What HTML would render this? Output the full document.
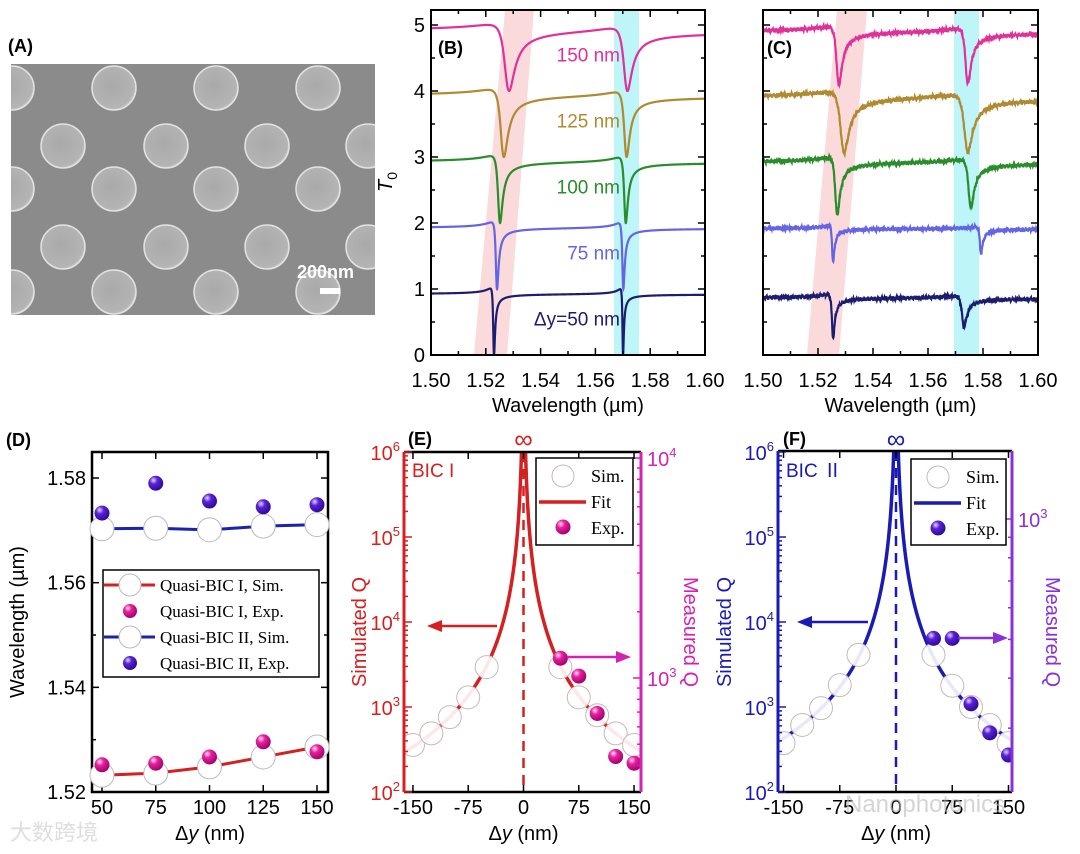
<!DOCTYPE html>
<html><head><meta charset="utf-8">
<style>
html,body{margin:0;padding:0;background:#fff;}
svg{display:block;font-family:"Liberation Sans","Noto Sans CJK SC",sans-serif;}
.serif{font-family:"Liberation Serif",serif;}
</style></head>
<body>
<svg id="fig" xmlns="http://www.w3.org/2000/svg" width="1080" height="854" viewBox="0 0 1080 854">
<defs>
<radialGradient id="gPink" cx="0.35" cy="0.3" r="0.75"><stop offset="0" stop-color="#ffe0f4"/><stop offset="0.35" stop-color="#e8209e"/><stop offset="1" stop-color="#9a006a"/></radialGradient>
<radialGradient id="gPurp" cx="0.35" cy="0.3" r="0.75"><stop offset="0" stop-color="#e4d8ff"/><stop offset="0.35" stop-color="#5a22d8"/><stop offset="1" stop-color="#2a0890"/></radialGradient>
<radialGradient id="gDisk" cx="0.45" cy="0.45" r="0.6"><stop offset="0" stop-color="#a9a9a9"/><stop offset="0.85" stop-color="#b4b4b4"/><stop offset="1" stop-color="#dcdcdc"/></radialGradient>
<clipPath id="clipA"><rect x="11" y="64" width="364" height="251"/></clipPath>
<clipPath id="clipB"><rect x="431" y="10" width="274" height="345"/></clipPath>
<clipPath id="clipC"><rect x="763" y="10" width="275" height="345"/></clipPath>
<clipPath id="clipE"><rect x="404" y="452" width="237" height="340"/></clipPath>
<clipPath id="clipF"><rect x="778" y="451" width="234" height="341"/></clipPath>
</defs>
<g id="root"></g>
</svg>
<script>
// ---------- DATA ----------
const semRowsY = [88, 146, 189, 247, 292];
const semRowA = [12, 114, 216, 318];
const semRowB = [63, 166, 267, 368];
const bOffsets = [0, 1, 2, 3, 4];
const bLabels = ['\u0394y=50 nm', '75 nm', '100 nm', '125 nm', '150 nm'];
const bDip1 = [1.5230, 1.5241, 1.5252, 1.5266, 1.5285];
const bDip2 = [1.5701, 1.5702, 1.5711, 1.5714, 1.5717];
const bWidth1 = [0.0004, 0.0006, 0.0010, 0.0016, 0.0022];
const bWidth2 = [0.0003, 0.0005, 0.0008, 0.0012, 0.0018];
const bBase = [0.92, 0.92, 0.92, 0.92, 0.90];
const cOffsets = [0, 1, 2, 3, 4];
const cBase = [0.86, 0.91, 0.91, 0.89, 0.89];
const cDip1 = [1.5255, 1.5255, 1.5270, 1.5295, 1.5276];
const cDip2 = [1.5731, 1.5793, 1.5756, 1.5745, 1.5745];
const cDepth1 = [0.70, 0.55, 0.87, 0.93, 0.90];
const cDepth2 = [0.51, 0.41, 0.74, 0.91, 0.87];
const cWidth1 = [0.0006, 0.0005, 0.0010, 0.0018, 0.0012];
const cWidth2 = [0.0010, 0.0006, 0.0012, 0.0018, 0.0012];
const specTicks = ['1.50', '1.52', '1.54', '1.56', '1.58', '1.60'];
const tTicks = ['0', '1', '2', '3', '4', '5'];
const dDy = [50, 75, 100, 125, 150];
const dSim1 = [1.5232, 1.5236, 1.5248, 1.5267, 1.5286];
const dExp1 = [1.5252, 1.5255, 1.5267, 1.5296, 1.5277];
const dSim2 = [1.5703, 1.5704, 1.5701, 1.5708, 1.5711];
const dExp2 = [1.5733, 1.5790, 1.5756, 1.5745, 1.5749];
const dYTicks = ['1.52', '1.54', '1.56', '1.58'];
const dXTicks = ['50', '75', '100', '125', '150'];
const eSimDy = [-150, -125, -100, -75, -50, 50, 75, 100, 125, 150];
const eSimQ = [357, 490, 760, 1300, 2950, 2950, 1300, 800, 490, 357];
const eExpDy = [50, 75, 100, 125, 150];
const eExpQ = [1230, 1020, 690, 440, 410];
const fSimDy = [-150, -125, -100, -75, -50, 50, 75, 100, 125, 150];
const fSimQ = [376, 615, 970, 1810, 4100, 4100, 1780, 1000, 615, 376];
const fExpDy = [50, 75, 100, 125, 150];
const fExpQ = [503, 503, 345, 292, 257];
const qXTicks = ['-150', '-75', '0', '75', '150'];

// ---------- HELPERS ----------
const NS = 'http://www.w3.org/2000/svg';
const root = document.getElementById('root');
function mk(parent, tag, attrs, name) {
  const el = document.createElementNS(NS, tag);
  for (const k in attrs) el.setAttribute(k, attrs[k]);
  
  
  parent.appendChild(el);
  return el;
}
function txt(parent, x, y, s, attrs, name) {
  const a = Object.assign({x: x, y: y}, attrs || {});
  const el = mk(parent, 'text', a, name);
  el.textContent = s;
  return el;
}
function powLabel(parent, x, y, exp, color, anchor, name) {
  const el = mk(parent, 'text', {x: x, y: y, fill: color, 'font-size': 20, 'text-anchor': anchor}, name);
  el.appendChild(document.createTextNode('10'));
  const t = document.createElementNS(NS, 'tspan');
  t.setAttribute('dy', -9); t.setAttribute('font-size', 13);
  t.textContent = exp;
  el.appendChild(t);
  return el;
}
function g(name, extra) { return mk(root, 'g', extra || {}, name); }
function fano(l, l0, gam, q) { const e = (l - l0) / gam; return ((e + q) * (e + q)) / (1 + e * e); }
function jitter(i, k) { return 0.016 * Math.sin(i * 1.7 + k) + 0.012 * Math.sin(i * 0.53 + 2 * k) + 0.009 * Math.sin(i * 3.1 + 3 * k); }

// ---------- PANEL A ----------
(function () {
  const pa = g('panel-a-sem-image');
  txt(pa, 8, 52, '(A)', {'font-size': 18, 'font-weight': 'bold'}, 'panel-a-label');
  const cg = mk(pa, 'g', {'clip-path': 'url(#clipA)'}, 'sem-field');
  mk(cg, 'rect', {x: 11, y: 64, width: 364, height: 251, fill: '#8b8b8b'}, 'sem-background');
  semRowsY.forEach((y, r) => {
    const xs = (r % 2 === 0) ? semRowA : semRowB;
    xs.forEach(x => mk(cg, 'circle', {cx: x, cy: y, r: 22, fill: 'url(#gDisk)', stroke: '#e2e2e2', 'stroke-width': 1.5}, 'nanodisk'));
  });
  [114, 216].forEach(x => mk(cg, 'circle', {cx: x + 51, cy: 37, r: 22, fill: 'url(#gDisk)', stroke: '#e2e2e2', 'stroke-width': 1.5}, 'nanodisk'));
  txt(pa, 297, 278, '200nm', {'font-size': 18, 'font-weight': 'bold', fill: '#fff'}, 'scale-bar-label');
  mk(pa, 'rect', {x: 320, y: 288, width: 20, height: 6, fill: '#fff'}, 'scale-bar');
})();

// ---------- SPECTRA PANELS ----------
const specColors = ['#1c1c70', '#6464e4', '#2a8c2a', '#b08a30', '#e0309a'];
function specFrame(p, x0, x1, y0, y1, labels) {
  mk(p, 'rect', {x: x0, y: y0, width: x1 - x0, height: y1 - y0, fill: 'none', stroke: '#000', 'stroke-width': 2}, 'plot-frame');
  const xs = v => x0 + (v - 1.5) * (x1 - x0) / 0.1;
  for (let i = 0; i <= 10; i++) {
    const v = 1.5 + i * 0.01, X = xs(v), L = i % 2 === 0 ? 7 : 4;
    mk(p, 'line', {x1: X, y1: y1, x2: X, y2: y1 - L, stroke: '#000', 'stroke-width': 1.5}, 'x-tick');
    mk(p, 'line', {x1: X, y1: y0, x2: X, y2: y0 + L, stroke: '#000', 'stroke-width': 1.5}, 'x-tick');
  }
  specTicks.forEach(s => txt(p, xs(parseFloat(s)), 387, s, {'font-size': 20, 'text-anchor': 'middle'}, 'x-tick-label'));
  for (let i = 0; i <= 10; i++) {
    const Y = y1 - i * 0.5 * 66, L = i % 2 === 0 ? 7 : 4;
    if (Y < y0) continue;
    mk(p, 'line', {x1: x0, y1: Y, x2: x0 + L, y2: Y, stroke: '#000', 'stroke-width': 1.5}, 'y-tick');
    mk(p, 'line', {x1: x1, y1: Y, x2: x1 - L, y2: Y, stroke: '#000', 'stroke-width': 1.5}, 'y-tick');
  }
  if (labels) tTicks.forEach(s => txt(p, x0 - 6, y1 - parseFloat(s) * 66 + 7, s, {'font-size': 20, 'text-anchor': 'end'}, 'y-tick-label'));
  txt(p, (x0 + x1) / 2, 412, 'Wavelength (\u00b5m)', {'font-size': 20, 'text-anchor': 'middle'}, 'x-axis-title');
}
(function () {
  const p = g('panel-b-simulated-spectra');
  const x0 = 431, x1 = 705, y1 = 355;
  const xB = l => x0 + (l - 1.5) * 2740, yB = v => y1 - v * 66;
  mk(p, 'polygon', {points: '474,355 507,355 534,10 505,10', fill: 'rgba(240,150,150,0.35)'}, 'bic1-band');
  mk(p, 'rect', {x: 614, y: 10, width: 25, height: 345, fill: 'rgba(90,230,240,0.4)'}, 'bic2-band');
  const cg = mk(p, 'g', {'clip-path': 'url(#clipB)'}, 'curves');
  bOffsets.forEach((off, k) => {
    let d = '';
    for (let i = 0; i <= 3000; i++) {
      const l = 1.5 + i * 0.1 / 3000;
      const l1 = bDip1[k] - 0.3 * bWidth1[k], l2 = bDip2[k] - 0.3 * bWidth2[k];
      const T = off + bBase[k] * fano(l, l1, bWidth1[k], -0.3) * fano(l, l2, bWidth2[k], -0.3);
      d += (i ? 'L' : 'M') + xB(l).toFixed(2) + ',' + yB(Math.min(T, off + 1.02)).toFixed(2);
    }
    mk(cg, 'path', {d: d, fill: 'none', stroke: specColors[k], 'stroke-width': 2.2}, 'spectrum-' + bLabels[k].replace(/[^0-9]/g, '') + 'nm');
    txt(p, 620, yB(off + 0.45), bLabels[k], {'font-size': 19, 'text-anchor': 'end', fill: specColors[k]}, 'curve-label');
  });
  specFrame(p, x0, x1, 10, y1, true);
  txt(p, 438, 54, '(B)', {'font-size': 18, 'font-weight': 'bold'}, 'panel-b-label');
  const yl = txt(p, 0, 0, 'T', {'font-size': 20, 'font-style': 'italic', transform: 'translate(392,192) rotate(-90)'}, 'y-axis-title');
  const sub = document.createElementNS(NS, 'tspan'); sub.setAttribute('dy', 5); sub.setAttribute('font-size', 14); sub.setAttribute('font-style', 'normal'); sub.textContent = '0'; yl.appendChild(sub);
})();
(function () {
  const p = g('panel-c-measured-spectra');
  const x0 = 763, x1 = 1038, y1 = 355;
  const xC = l => x0 + (l - 1.5) * 2750, yC = v => y1 - v * 66;
  mk(p, 'polygon', {points: '807,355 839,355 867,10 837,10', fill: 'rgba(240,150,150,0.35)'}, 'bic1-band');
  mk(p, 'rect', {x: 954, y: 10, width: 25, height: 345, fill: 'rgba(90,230,240,0.4)'}, 'bic2-band');
  const cg = mk(p, 'g', {'clip-path': 'url(#clipC)'}, 'curves');
  cOffsets.forEach((off, k) => {
    let d = '';
    for (let i = 0; i <= 900; i++) {
      const l = 1.5 + i * 0.1 / 900;
      const l1 = cDip1[k] - 0.3 * cWidth1[k], l2 = cDip2[k] - 0.3 * cWidth2[k];
      const f1 = 1 - cDepth1[k] * (1 - Math.min(fano(l, l1, cWidth1[k], -0.3), 1.08));
      const f2 = 1 - cDepth2[k] * (1 - Math.min(fano(l, l2, cWidth2[k], -0.3), 1.08));
      const T = off + cBase[k] * f1 * f2 + jitter(i, k + 1);
      d += (i ? 'L' : 'M') + xC(l).toFixed(2) + ',' + yC(T).toFixed(2);
    }
    mk(cg, 'path', {d: d, fill: 'none', stroke: specColors[k], 'stroke-width': 2.2}, 'measured-spectrum');
  });
  specFrame(p, x0, x1, 10, y1, false);
  txt(p, 767, 54, '(C)', {'font-size': 18, 'font-weight': 'bold'}, 'panel-c-label');
})();

// ---------- PANEL D ----------
(function () {
  const p = g('panel-d-wavelength-vs-dy');
  const x0 = 92, x1 = 328, y0 = 452, y1 = 792;
  const xD = v => 102 + (v - 50) * 2.15, yD = w => y1 - (w - 1.52) * 5233;
  mk(p, 'rect', {x: x0, y: y0, width: x1 - x0, height: y1 - y0, fill: '#fff', stroke: '#000', 'stroke-width': 2.5}, 'plot-frame');
  for (let i = 0; i <= 13; i++) {
    const w = 1.52 + i * 0.005, Y = yD(w); if (Y < y0) continue;
    const L = i % 4 === 0 ? 7 : (i % 2 === 0 ? 4 : 0); if (!L) continue;
    mk(p, 'line', {x1: x0, y1: Y, x2: x0 + L, y2: Y, stroke: '#000', 'stroke-width': 1.5}, 'y-tick');
    mk(p, 'line', {x1: x1, y1: Y, x2: x1 - L, y2: Y, stroke: '#000', 'stroke-width': 1.5}, 'y-tick');
  }
  dYTicks.forEach(s => txt(p, x0 - 6, yD(parseFloat(s)) + 7, s, {'font-size': 20, 'text-anchor': 'end'}, 'y-tick-label'));
  dXTicks.forEach(s => {
    const X = xD(parseFloat(s));
    mk(p, 'line', {x1: X, y1: y1, x2: X, y2: y1 - 7, stroke: '#000', 'stroke-width': 1.5}, 'x-tick');
    mk(p, 'line', {x1: X, y1: y0, x2: X, y2: y0 + 7, stroke: '#000', 'stroke-width': 1.5}, 'x-tick');
    txt(p, X, 814, s, {'font-size': 20, 'text-anchor': 'middle'}, 'x-tick-label');
  });
  const series = [[dSim1, '#d42020'], [dSim2, '#1a22b0']];
  series.forEach(([arr, col]) => {
    mk(p, 'polyline', {points: dDy.map((v, i) => xD(v) + ',' + yD(arr[i])).join(' '), fill: 'none', stroke: col, 'stroke-width': 3}, 'sim-line');
    dDy.forEach((v, i) => mk(p, 'circle', {cx: xD(v), cy: yD(arr[i]), r: 12, fill: '#fff', stroke: '#bbb', 'stroke-width': 1}, 'sim-point'));
  });
  dDy.forEach((v, i) => mk(p, 'circle', {cx: xD(v), cy: yD(dExp1[i]), r: 7.5, fill: 'url(#gPink)'}, 'exp-point-bic1'));
  dDy.forEach((v, i) => mk(p, 'circle', {cx: xD(v), cy: yD(dExp2[i]), r: 7.5, fill: 'url(#gPurp)'}, 'exp-point-bic2'));
  const lg = mk(p, 'g', {}, 'legend');
  mk(lg, 'rect', {x: 103, y: 570, width: 216, height: 107, fill: '#fff', stroke: '#000', 'stroke-width': 1.5}, 'legend-box');
  const rows = [['Quasi-BIC I, Sim.', 'line', '#d42020'], ['Quasi-BIC I, Exp.', 'ball', 'url(#gPink)'], ['Quasi-BIC II, Sim.', 'line', '#1a22b0'], ['Quasi-BIC II, Exp.', 'ball', 'url(#gPurp)']];
  rows.forEach((r, i) => {
    const y = 585 + i * 26;
    if (r[1] === 'line') {
      mk(lg, 'line', {x1: 104, y1: y, x2: 155, y2: y, stroke: r[2], 'stroke-width': 3}, 'legend-line');
      mk(lg, 'circle', {cx: 130, cy: y, r: 11, fill: '#fff', stroke: '#bbb'}, 'legend-marker');
    } else mk(lg, 'circle', {cx: 130, cy: y, r: 7, fill: r[2]}, 'legend-marker');
    txt(lg, 160, y + 6, r[0], {'font-size': 17, class: 'serif'}, 'legend-entry');
  });
  txt(p, 6, 446, '(D)', {'font-size': 18, 'font-weight': 'bold'}, 'panel-d-label');
  txt(p, 0, 0, 'Wavelength (\u00b5m)', {'font-size': 20, 'text-anchor': 'middle', transform: 'translate(24,622) rotate(-90)'}, 'y-axis-title');
  const xt = txt(p, 210, 840, '\u0394', {'font-size': 20, 'text-anchor': 'middle'}, 'x-axis-title');
  const it = document.createElementNS(NS, 'tspan'); it.setAttribute('font-style', 'italic'); it.textContent = 'y'; xt.appendChild(it);
  xt.appendChild(document.createTextNode(' (nm)'));
})();

// ---------- Q PANELS ----------
function qPanel(cfg) {
  const p = g(cfg.name);
  const {x0, x1, y0, y1, xZero, kx, lc, rc} = cfg;
  const xs = v => xZero + v * kx;
  const yL = q => y1 - (Math.log10(q) - 2) * 85;
  const yR = q => cfg.rRef - (Math.log10(q) - 3) * cfg.rDec;
  mk(p, 'rect', {x: x0, y: y0, width: x1 - x0, height: y1 - y0, fill: '#fff'}, 'plot-bg');
  let s = 0; cfg.simDy.forEach((v, i) => { s += Math.log(cfg.simQ[i] * v * v); });
  const a = Math.exp(s / cfg.simDy.length);
  const cg = mk(p, 'g', {'clip-path': 'url(#' + cfg.clip + ')'}, 'plot-area');
  [-1, 1].forEach(sg => {
    let d = '';
    for (let i = 0; i <= 400; i++) {
      const v = Math.exp(Math.log(1.5) + i * (Math.log(165) - Math.log(1.5)) / 400);
      const q = Math.min(a / (v * v), 2e6);
      d += (i ? 'L' : 'M') + xs(sg * v).toFixed(2) + ',' + yL(q).toFixed(2);
    }
    mk(cg, 'path', {d: d, fill: 'none', stroke: lc, 'stroke-width': 3.5}, 'fit-curve');
  });
  mk(cg, 'line', {x1: xs(0), y1: y0, x2: xs(0), y2: y1, stroke: lc, 'stroke-width': 2.5, 'stroke-dasharray': '10,7'}, 'bic-dashed-line');
  cfg.simDy.forEach((v, i) => mk(cg, 'circle', {cx: xs(v), cy: yL(cfg.simQ[i]), r: 11.5, fill: '#fff', 'fill-opacity': 0.9, stroke: '#c8b8b8', 'stroke-width': 1}, 'sim-point'));
  cfg.expDy.forEach((v, i) => mk(cg, 'circle', {cx: xs(v), cy: yR(cfg.expQ[i]), r: 7.5, fill: cfg.ball}, 'exp-point'));
  mk(p, 'line', {x1: x0, y1: y0, x2: x1, y2: y0, stroke: '#000', 'stroke-width': 2.5}, 'top-axis');
  mk(p, 'line', {x1: x0, y1: y1, x2: x1, y2: y1, stroke: '#000', 'stroke-width': 2.5}, 'bottom-axis');
  mk(p, 'line', {x1: x0, y1: y0, x2: x0, y2: y1, stroke: lc, 'stroke-width': 3}, 'left-axis');
  mk(p, 'line', {x1: x1, y1: y0, x2: x1, y2: y1, stroke: rc, 'stroke-width': 3}, 'right-axis');
  for (let e = 2; e <= 6; e++) {
    for (let m = 1; m <= 9; m++) {
      if (e === 6 && m > 1) break;
      const Y = yL(m * Math.pow(10, e)), L = m === 1 ? 8 : 4;
      mk(p, 'line', {x1: x0, y1: Y, x2: x0 + L, y2: Y, stroke: lc, 'stroke-width': 1.5}, 'left-tick');
    }
    powLabel(p, x0 - 4, yL(Math.pow(10, e)) + 8, String(e), lc, 'end', 'left-tick-label');
  }
  for (let e = 2; e <= 4; e++) for (let m = 1; m <= 9; m++) {
    const Y = yR(m * Math.pow(10, e)); if (Y < y0 || Y > y1) continue;
    mk(p, 'line', {x1: x1, y1: Y, x2: x1 - (m === 1 ? 8 : 4), y2: Y, stroke: rc, 'stroke-width': 1.5}, 'right-tick');
  }
  cfg.rLabels.forEach(e => powLabel(p, x1 + 6, yR(Math.pow(10, e)) + 8, String(e), rc, 'start', 'right-tick-label'));
  qXTicks.forEach(s => {
    const X = xs(parseFloat(s));
    mk(p, 'line', {x1: X, y1: y1, x2: X, y2: y1 - 7, stroke: '#000', 'stroke-width': 1.5}, 'x-tick');
    mk(p, 'line', {x1: X, y1: y0, x2: X, y2: y0 + 7, stroke: '#000', 'stroke-width': 1.5}, 'x-tick');
    txt(p, X, 814, s, {'font-size': 20, 'text-anchor': 'middle'}, 'x-tick-label');
  });
  const xt = txt(p, xs(0), 840, '\u0394', {'font-size': 20, 'text-anchor': 'middle'}, 'x-axis-title');
  const it = document.createElementNS(NS, 'tspan'); it.setAttribute('font-style', 'italic'); it.textContent = 'y'; xt.appendChild(it);
  xt.appendChild(document.createTextNode(' (nm)'));
  txt(p, xs(0), 448, '\u221e', {'font-size': 26, 'text-anchor': 'middle', fill: lc}, 'infinity-mark');
  txt(p, cfg.label[1], 445, cfg.label[0], {'font-size': 18, 'font-weight': 'bold'}, 'panel-label');
  txt(p, x0 + 8, 477, cfg.bic, {'font-size': 19, fill: lc}, 'bic-label');
  txt(p, 0, 0, 'Simulated Q', {'font-size': 20, fill: lc, 'text-anchor': 'middle', transform: 'translate(' + cfg.ltx + ',632) rotate(-90)'}, 'left-axis-title');
  txt(p, 0, 0, 'Measured Q', {'font-size': 20, fill: rc, 'text-anchor': 'middle', transform: 'translate(' + cfg.rtx + ',632) rotate(90)'}, 'right-axis-title');
  const A = cfg.arrL, B = cfg.arrR;
  mk(p, 'line', {x1: A[0], y1: A[2], x2: A[1] + 12, y2: A[2], stroke: lc, 'stroke-width': 2.5}, 'left-arrow');
  mk(p, 'polygon', {points: A[1] + ',' + A[2] + ' ' + (A[1] + 15) + ',' + (A[2] - 6) + ' ' + (A[1] + 15) + ',' + (A[2] + 6), fill: lc}, 'left-arrow-head');
  mk(p, 'line', {x1: B[0], y1: B[2], x2: B[1] - 12, y2: B[2], stroke: rc, 'stroke-width': 2.5}, 'right-arrow');
  mk(p, 'polygon', {points: B[1] + ',' + B[2] + ' ' + (B[1] - 15) + ',' + (B[2] - 6) + ' ' + (B[1] - 15) + ',' + (B[2] + 6), fill: rc}, 'right-arrow-head');
  const L = cfg.leg;
  const lg = mk(p, 'g', {}, 'legend');
  mk(lg, 'rect', {x: L[0], y: L[1], width: L[2], height: L[3], fill: '#fff', stroke: '#000', 'stroke-width': 1.5}, 'legend-box');
  mk(lg, 'circle', {cx: L[0] + 27, cy: L[1] + 18, r: 11, fill: '#fff', stroke: '#c8b8b8'}, 'legend-sim-marker');
  txt(lg, L[0] + 55, L[1] + 24, 'Sim.', {'font-size': 18, class: 'serif'}, 'legend-entry-sim');
  mk(lg, 'line', {x1: L[0] + 3, y1: L[1] + 44, x2: L[0] + 50, y2: L[1] + 44, stroke: lc, 'stroke-width': 3.5}, 'legend-fit-line');
  txt(lg, L[0] + 55, L[1] + 50, 'Fit', {'font-size': 18, class: 'serif'}, 'legend-entry-fit');
  mk(lg, 'circle', {cx: L[0] + 27, cy: L[1] + 69, r: 7.5, fill: cfg.ball}, 'legend-exp-marker');
  txt(lg, L[0] + 55, L[1] + 76, 'Exp.', {'font-size': 18, class: 'serif'}, 'legend-entry-exp');
}
qPanel({name: 'panel-e-bic1-q-factor', x0: 404, x1: 641, y0: 452, y1: 792, xZero: 523.5, kx: 0.737,
  lc: '#d42020', rc: '#d422b4', rRef: 678, rDec: 220, rLabels: [3, 4], clip: 'clipE',
  simDy: eSimDy, simQ: eSimQ, expDy: eExpDy, expQ: eExpQ, ball: 'url(#gPink)',
  label: ['(E)', 408], bic: 'BIC I', ltx: 366, rtx: 684,
  arrL: [497, 427, 626], arrR: [567, 631, 657], leg: [536, 458, 97, 87]});
qPanel({name: 'panel-f-bic2-q-factor', x0: 778, x1: 1012, y0: 451, y1: 792, xZero: 896, kx: 0.75,
  lc: '#1a1ab4', rc: '#8a30d8', rRef: 519, rDec: 400, rLabels: [3], clip: 'clipF',
  simDy: fSimDy, simQ: fSimQ, expDy: fExpDy, expQ: fExpQ, ball: 'url(#gPurp)',
  label: ['(F)', 783], bic: 'BIC \u2161', ltx: 731, rtx: 1046,
  arrL: [868, 797, 622], arrR: [958, 1008, 638], leg: [911, 459, 95, 86]});

txt(root, 10, 840, '\u5927\u6570\u8de8\u5883', {'font-size': 22, fill: '#d8d8d8', 'fill-opacity': 0.85}, 'watermark-cn');
txt(root, 845, 812, 'Nanophotonics', {'font-size': 24, fill: '#b8b8b8', 'fill-opacity': 0.6}, 'watermark-nanophotonics');
</script>
</body></html>
